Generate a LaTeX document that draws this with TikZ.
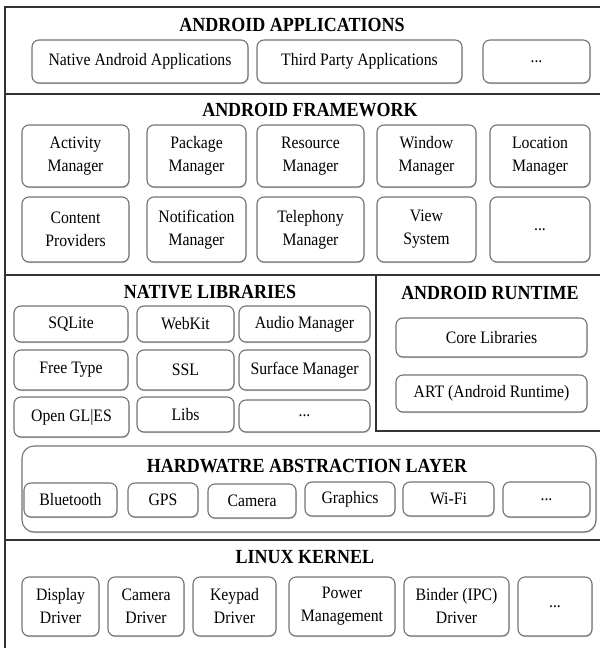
\documentclass[tikz,border=0pt]{standalone}
\usepackage{fontspec}
\setmainfont{Liberation Serif}[FakeStretch=0.9]
\usetikzlibrary{shadows}
\tikzset{
  box/.style={draw=black!55, line width=1.1pt, rounded corners=7pt, fill=white,
    inner sep=0pt, align=center, font=\fontsize{17.5}{23}\selectfont,
    drop shadow={opacity=0.35, shadow xshift=0.6pt, shadow yshift=-1.2pt, fill=black!60}},
  ttl/.style={font=\bfseries\fontsize{20}{22}\selectfont, inner sep=0pt},
  sep/.style={draw=black!80, line width=1.3pt}
}
\newcommand\bx[6]{\node[box, minimum width={#4-#2}, minimum height={#5-#3}] (#1) at ({(#2+#4)/2},{(#3+#5)/2}) {#6};}
\begin{document}
\begin{tikzpicture}[x=1pt,y=-1pt]
\useasboundingbox (0,0) rectangle (600,648);
% frame and separators
\draw[sep] (5,648) -- (5,7) -- (600,7);
\draw[sep] (5,94) -- (600,94);
\draw[sep] (5,275) -- (600,275);
\draw[sep] (376,275) -- (376,431) -- (600,431);
\draw[sep] (5,540) -- (600,540);

% Applications
\node[ttl] (tApps) at (292,25) {ANDROID APPLICATIONS};
\bx{nat}{32}{40}{248}{83}{Native Android Applications}
\bx{third}{257}{40}{462}{83}{Third Party Applications}
\bx{appdots}{483}{40}{590}{83}{...}

% Framework
\node[ttl] (tFw) at (310,110) {ANDROID FRAMEWORK};
\bx{act}{22}{125}{129}{187}{Activity\\Manager}
\bx{pkg}{147}{125}{246}{187}{Package\\Manager}
\bx{res}{257}{125}{364}{187}{Resource\\Manager}
\bx{win}{377}{125}{476}{187}{Window\\Manager}
\bx{loc}{490}{125}{590}{187}{Location\\Manager}
\bx{cont}{22}{197}{129}{262}{Content\\Providers}
\bx{notif}{147}{197}{246}{262}{Notification\\Manager}
\bx{tel}{257}{197}{364}{262}{Telephony\\Manager}
\bx{view}{377}{197}{476}{262}{View\\System}
\bx{fwdots}{490}{197}{590}{262}{...}

% Native libraries
\node[ttl] (tLib) at (210,292) {NATIVE LIBRARIES};
\bx{sql}{14}{306}{128}{342}{SQLite}
\bx{webkit}{137}{306}{234}{342}{WebKit}
\bx{audio}{239}{306}{370}{342}{Audio Manager}
\bx{free}{14}{350}{128}{390}{Free Type}
\bx{ssl}{137}{350}{234}{390}{SSL}
\bx{surf}{239}{350}{370}{390}{Surface Manager}
\bx{gl}{14}{397}{129}{437}{Open GL|ES}
\bx{libc}{137}{397}{234}{432}{Libs}
\bx{libdots}{239}{400}{370}{432}{...}

% Runtime
\node[ttl] (tRt) at (490,293) {ANDROID RUNTIME};
\bx{core}{396}{318}{587}{357}{Core Libraries}
\bx{art}{396}{375}{587}{412}{ART (Android Runtime)}

% HAL
\node[box, minimum width=574, minimum height=86, rounded corners=12pt] (hal) at (309,489) {};
\node[ttl] (tHal) at (307,466) {HARDWATRE ABSTRACTION LAYER};
\bx{bt}{24}{483}{117}{517}{Bluetooth}
\bx{gps}{128}{483}{198}{517}{GPS}
\bx{cam}{208}{484}{296}{518}{Camera}
\bx{gfx}{305}{482}{395}{516}{Graphics}
\bx{wifi}{403}{482}{494}{516}{Wi-Fi}
\bx{haldots}{503}{482}{590}{517}{...}

% Kernel
\node[ttl] (tKer) at (305,557) {LINUX KERNEL};
\bx{disp}{22}{577}{99}{636}{Display\\Driver}
\bx{camd}{108}{577}{184}{636}{Camera\\Driver}
\bx{key}{193}{577}{276}{636}{Keypad\\Driver}
\bx{pow}{289}{577}{395}{636}{Power\\Management}
\bx{bind}{404}{577}{509}{636}{Binder (IPC)\\Driver}
\bx{kdots}{518}{577}{592}{636}{...}
\end{tikzpicture}
\end{document}
